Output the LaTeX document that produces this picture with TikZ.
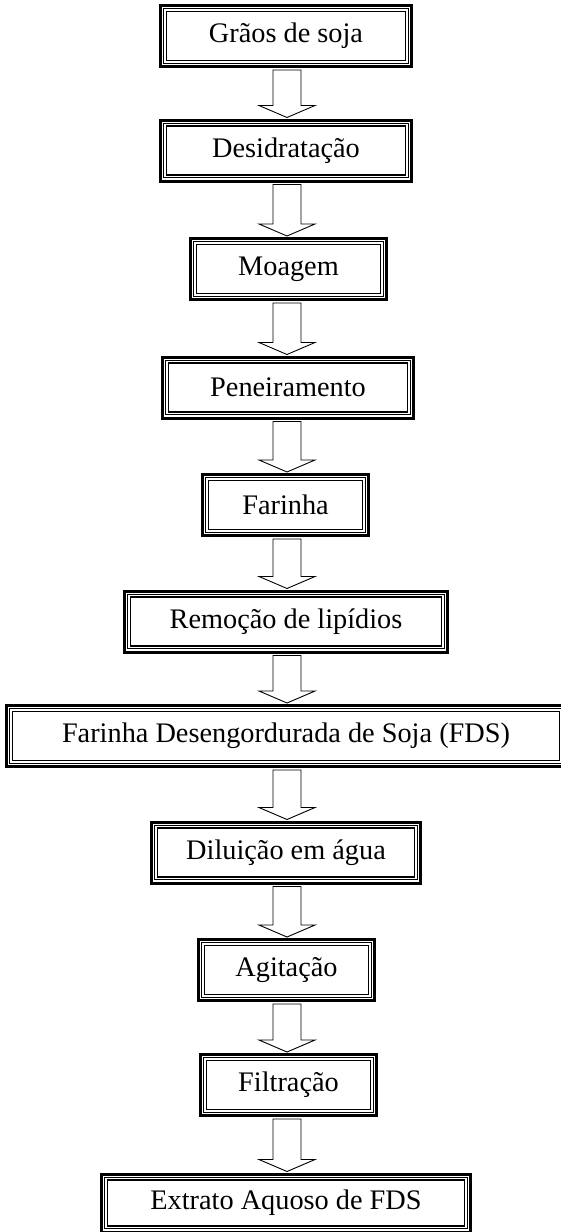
\documentclass[tikz,border=0pt]{standalone}
\usepackage{fontspec}
\setmainfont{Liberation Serif}
\usetikzlibrary{calc}

\tikzset{
  etapa/.style={draw, line width=3pt, minimum height=61pt, inner sep=0pt,
    font=\fontsize{28.3}{34}\selectfont},
  seta/.style={draw, line width=0.9pt, fill=white, line join=miter}
}

% inner frame lines of a box
\newcommand{\moldura}[1]{%
  \draw[line width=1.1pt] ([shift={(4.9pt,4.9pt)}]#1.south west) rectangle ([shift={(-4.9pt,-4.9pt)}]#1.north east);
  \draw[line width=1.1pt] ([shift={(7.5pt,7.5pt)}]#1.south west) rectangle ([shift={(-7.5pt,-7.5pt)}]#1.north east);}

% hollow block arrow from one box to the next
\newcommand{\setabloco}[2]{%
  \draw[seta] let \p1=(#1.south), \p2=(#2.north) in
    (273pt,\y1-2pt) -- (301pt,\y1-2pt) -- (301pt,\y2+13pt) -- (315pt,\y2+13pt)
    -- (287pt,\y2+1pt) -- (259pt,\y2+13pt) -- (273pt,\y2+13pt) -- cycle;}

\begin{document}
\begin{tikzpicture}[x=1pt,y=-1pt]

    % page
    \useasboundingbox[fill=white] (0,0) rectangle (561,1232);

    % the steps
    \node[etapa, minimum width=251pt] (graos) at (286,36) {Grãos de soja};
    \node[etapa, minimum width=251pt] (desid) at (286,150.5) {Desidratação};
    \node[etapa, minimum width=196pt] (moagem) at (288.5,269) {Moagem};
    \node[etapa, minimum width=251pt] (peneira) at (288,387.5) {Peneiramento};
    \node[etapa, minimum width=166pt] (farinha) at (285.5,505) {Farinha};
    \node[etapa, minimum width=323pt] (lipid) at (286,621.5) {Remoção de lipídios};
    \node[etapa, minimum width=559pt] (fds) at (286,736) {Farinha Desengordurada de Soja (FDS)};
    \node[etapa, minimum width=269pt] (dilui) at (286,852.5) {Diluição em água};
    \node[etapa, minimum width=176pt] (agita) at (286.5,970) {Agitação};
    \node[etapa, minimum width=176pt] (filtra) at (288.5,1085) {Filtração};
    \node[etapa, minimum width=369pt, minimum height=58pt] (extrato) at (286,1203) {Extrato Aquoso de FDS};

    \foreach \n in {graos,desid,moagem,peneira,farinha,lipid,fds,dilui,agita,filtra,extrato}
        \moldura{\n};

    % arrows
    \foreach \a/\b in {graos/desid,desid/moagem,moagem/peneira,peneira/farinha,farinha/lipid,
        lipid/fds,fds/dilui,dilui/agita,agita/filtra,filtra/extrato}
        \setabloco{\a}{\b};

\end{tikzpicture}
\end{document}
